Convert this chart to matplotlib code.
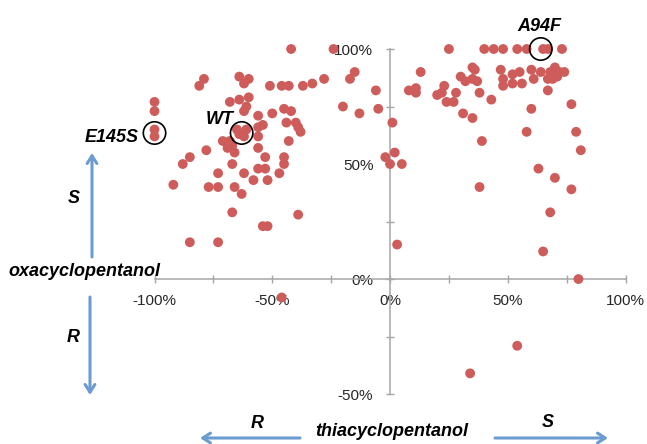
import matplotlib
matplotlib.use("Agg")
import matplotlib.pyplot as plt
from matplotlib.ticker import FixedLocator, PercentFormatter

plt.rcParams["font.family"] = ["Liberation Sans", "DejaVu Sans"]
plt.rcParams["axes.unicode_minus"] = False

# enantioselectivity (ee, %) of each variant for the two substrates
thia = [-42, -24, -81, -79, -64, -60, -62, -51, -46, -43, -37, -33, -28,
        -68, -64, -60, -61, -62, -100, -100, -100, -100,
        -56, -50, -45, -42, -44, -40, -39, -38,
        -71, -68, -65, -61, -62, -56, -54, -56, -56, -67, -69, -64,
        -43, -78, -66, -88, -85, -67, -53, -45, -45,
        -73, -62, -56, -53, -58, -52, -47,
        -92, -77, -73, -66, -63, -67, -39, -54, -52, -85, -73, -46,
        -15, -17, -6, -20, -13, -5, 1, -2, 0, 2, 5,
        25, 13, 8, 11, 11, 20, 22, 23, 24, 27,
        30, 35, 36, 35, 32, 37, 28, 38, 43, 31, 35, 39, 38,
        40, 44, 48, 54, 58, 65, 67, 73,
        47, 48, 52, 55, 52, 56, 48, 60, 64, 61, 67, 69, 68, 70, 72, 74, 71, 67,
        60, 58, 77, 79, 81, 63, 70, 77, 68, 65, 80, 3, 54, 34]
oxa = [100, 100, 84, 87, 88, 87, 85, 84, 84, 84, 84, 85, 87,
       77, 78, 79, 75, 73, 77, 73, 65, 62,
       71, 72, 74, 73, 68, 68, 66, 64,
       60, 60, 65, 65, 62, 66, 67, 62, 57, 58, 57, 63,
       60, 56, 55, 50, 53, 50, 53, 53, 50,
       46, 46, 48, 48, 43, 43, 46,
       41, 40, 40, 40, 37, 29, 28, 23, 23, 16, 16, -8,
       90, 87, 82, 75, 72, 74, 68, 53, 50, 55, 50,
       100, 90, 82, 83, 81, 80, 81, 84, 77, 77,
       88, 92, 91, 87, 86, 86, 81, 81, 78, 72, 70, 60, 40,
       100, 100, 100, 100, 100, 100, 100, 100,
       91, 87, 89, 90, 85, 85, 84, 91, 90, 87, 87, 87, 90, 92, 90, 90, 88, 82,
       74, 64, 76, 64, 56, 48, 44, 39, 29, 12, 0, 15, -29, -41]

# highlighted variants
mut_names = ["E145S", "WT", "A94F"]
mut_thia = [-100, -63, 64]
mut_oxa = [63.5, 63.5, 100]
mut_offsets = [(-31, -3), (-16, 9.5), (-1, 16.5)]

x_labels = [-100, -50, 0, 50, 100]
x_minor = [-75, -25, 25, 75]
y_labels = [-50, 0, 50, 100]
y_minor = [-25, 25, 75]

fig = plt.figure(figsize=(6.47, 4.44), dpi=100)
ax = fig.add_axes([0, 0, 1, 1])
ax.set_xlim(-165.6, 109.1)
ax.set_ylim(-71.7, 121.3)
ax.patch.set_visible(False)

for s in ["top", "right"]:
    ax.spines[s].set_visible(False)
ax.spines["left"].set_position(("data", 0))
ax.spines["bottom"].set_position(("data", 0))
ax.spines["left"].set_bounds(-50, 100)
ax.spines["bottom"].set_bounds(-100, 100)
for s in ["left", "bottom"]:
    ax.spines[s].set_color("#a6a6a6")
    ax.spines[s].set_linewidth(1.1)

ax.xaxis.set_major_locator(FixedLocator(x_labels))
ax.xaxis.set_minor_locator(FixedLocator(x_minor))
ax.yaxis.set_major_locator(FixedLocator(y_labels))
ax.yaxis.set_minor_locator(FixedLocator(y_minor))
ax.xaxis.set_major_formatter(PercentFormatter(100, decimals=0))
ax.yaxis.set_major_formatter(PercentFormatter(100, decimals=0))
ax.tick_params(which="both", direction="inout", length=6, width=1.0,
               color="#a6a6a6", labelsize=11, labelcolor="#262626")
ax.tick_params(axis="x", pad=8)
ax.tick_params(axis="y", pad=9)

ax.scatter(thia, oxa, s=50, color="#cd5c5a", edgecolors="none",
           zorder=3, clip_on=False)
ax.scatter(mut_thia, mut_oxa, s=260, facecolors="none", edgecolors="black",
           linewidths=1.2, zorder=4, clip_on=False)

lab = dict(fontsize=13, fontweight="bold", fontstyle="italic", color="black",
           ha="center", va="center")
for name, x, y, off in zip(mut_names, mut_thia, mut_oxa, mut_offsets):
    ax.annotate(name, (x, y), xytext=off, textcoords="offset points", **lab)

W, H = 647.0, 444.0


def fpos(px, py):
    return (px / W, 1 - py / H)


fig.text(*fpos(84, 272), "oxacyclopentanol", **lab)
fig.text(*fpos(392, 431), "thiacyclopentanol", **lab)
fig.text(*fpos(74, 198), "S", **lab)
fig.text(*fpos(73, 337), "R", **lab)
fig.text(*fpos(257, 423), "R", **lab)
fig.text(*fpos(548, 422), "S", **lab)

arrow = dict(arrowstyle="->,head_length=0.55,head_width=0.35",
             color="#6a9bd1", lw=2.2, shrinkA=0, shrinkB=0)
for start, end in [((92, 257), (92, 153)), ((90, 297), (90, 395)),
                   ((300, 438), (200, 438)), ((495, 438), (608, 438))]:
    ax.annotate("", xy=fpos(*end), xytext=fpos(*start),
                xycoords="figure fraction", textcoords="figure fraction",
                arrowprops=arrow)

fig.savefig("out.png", dpi=100)
